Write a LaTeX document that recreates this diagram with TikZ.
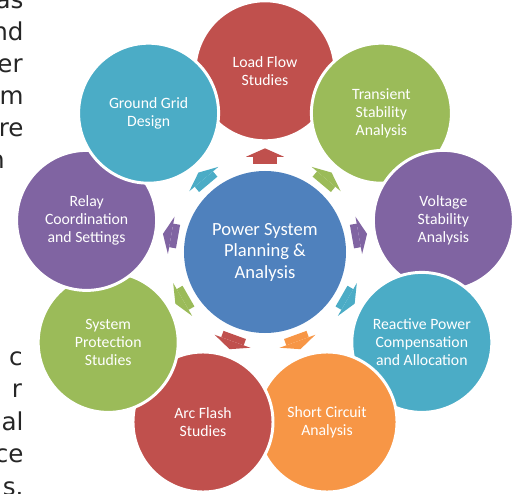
\documentclass[tikz,border=0pt]{standalone}
\usepackage{fontspec}
\setmainfont{Carlito}
\newfontfamily\pagefont{DejaVu Sans}
\usetikzlibrary{arrows.meta}
\definecolor{cblue}{HTML}{4F81BD}
\definecolor{cred}{HTML}{C0504D}
\definecolor{cgreen}{HTML}{9BBB59}
\definecolor{cpurple}{HTML}{8064A2}
\definecolor{cteal}{HTML}{4BACC6}
\definecolor{corange}{HTML}{F79646}
\begin{document}
\begin{tikzpicture}[
    topic/.style={circle, draw=white, line width=2.1pt, minimum size=3.5cm, inner sep=0pt,
        text=white, align=center, font=\fontsize{11.2}{12.8}\selectfont},
    hub/.style={circle, fill=cblue, minimum size=4.05cm, inner sep=0pt,
        text=white, align=center, font=\fontsize{13.2}{15.3}\selectfont},
    link/.style={line width=17pt, -{Triangle[width=27pt, length=6pt, line width=0pt]},
        shorten <=5pt, shorten >=4.3pt},
    frag/.style={anchor=base east, inner sep=0pt, text=black!85,
        font=\pagefont\fontsize{17.5}{21}\selectfont}
  ]
            \clip (-6.625, -6.025) rectangle (6.425, 6.3);
            % page text running behind the circles
            \node[frag] (t0) at (-6.03, 6.08) {as};
            \node[frag] (t1) at (-6.03, 5.28) {nd};
            \node[frag] (t2) at (-6.05, 4.48) {er};
            \node[frag] (t3) at (-6.03, 3.68) {m};
            \node[frag] (t4) at (-6.03, 2.88) {re};
            \node[frag] (t5) at (-6.50, 2.08) {n};
            \node[frag] (t6) at (-6.05, -2.83) {c};
            \node[frag] (t7) at (-6.07, -3.64) {r};
            \node[frag] (t8) at (-6.03, -4.45) {al};
            \node[frag] (t9) at (-6.03, -5.26) {ce};
            \node[frag] (t10) at (-6.03, -6.08) {s.};
            % hub and the nine topics, clockwise from the top
            \node[hub] (v0) at (0, 0) {Power System\\Planning \&\\Analysis};
            \node[topic, fill=cred] (v1) at (0, 4.53) {Load Flow\\Studies};
            \node[topic, fill=cgreen] (v2) at (2.91, 3.47) {Transient\\Stability\\Analysis};
            \node[topic, fill=cpurple] (v3) at (4.46, 0.79) {Voltage\\Stability\\Analysis};
            \node[topic, fill=cteal] (v4) at (3.92, -2.26) {Reactive Power\\Compensation\\and Allocation};
            \node[topic, fill=corange] (v5) at (1.55, -4.25) {Short Circuit\\Analysis};
            \node[topic, fill=cred] (v6) at (-1.55, -4.25) {Arc Flash\\Studies};
            \node[topic, fill=cgreen] (v7) at (-3.92, -2.26) {System\\Protection\\Studies};
            \node[topic, fill=cpurple] (v8) at (-4.46, 0.79) {Relay\\Coordination\\and Settings};
            \node[topic, fill=cteal] (v9) at (-2.91, 3.47) {Ground Grid\\Design};
            \draw[link, cred] (v0) -- (v1);
            \draw[link, cgreen] (v0) -- (v2);
            \draw[link, cpurple] (v0) -- (v3);
            \draw[link, cteal] (v0) -- (v4);
            \draw[link, corange] (v0) -- (v5);
            \draw[link, cred] (v0) -- (v6);
            \draw[link, cgreen] (v0) -- (v7);
            \draw[link, cpurple] (v0) -- (v8);
            \draw[link, cteal] (v0) -- (v9);
\end{tikzpicture}
\end{document}
